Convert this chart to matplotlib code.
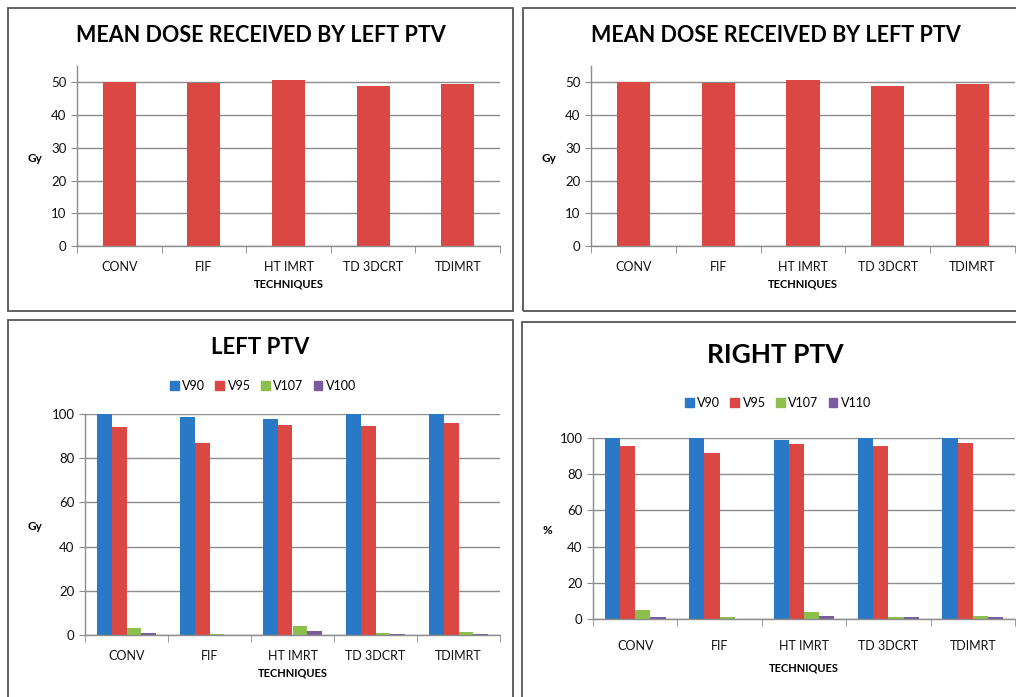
import numpy as np
import matplotlib
matplotlib.use("Agg")
import matplotlib.pyplot as plt
from matplotlib.patches import Rectangle, Patch

plt.rcParams['font.family'] = ['Lato', 'DejaVu Sans']

# Data
techniques = ["CONV", "FIF", "HT IMRT", "TD 3DCRT", "TDIMRT"]
mean_dose_left = [50.0, 49.9, 50.8, 48.9, 49.5]
mean_dose_left_2 = [50.0, 49.9, 50.8, 48.9, 49.5]

left_labels = ["V90", "V95", "V107", "V100"]
left_v90 = [100.0, 98.8, 97.7, 100.0, 100.0]
left_v95 = [94.1, 86.9, 95.2, 94.6, 96.1]
left_v107 = [3.0, 0.4, 4.1, 1.0, 1.5]
left_v100 = [0.7, 0.1, 1.7, 0.6, 0.6]

right_labels = ["V90", "V95", "V107", "V110"]
right_v90 = [100.0, 99.9, 98.9, 100.0, 100.0]
right_v95 = [95.8, 91.7, 96.9, 95.8, 97.4]
right_v107 = [5.0, 1.1, 4.1, 1.1, 1.7]
right_v110 = [1.1, 0.0, 1.7, 1.1, 1.1]

BLUE = "#2a79c6"
RED = "#db4844"
GREEN = "#8cbf4b"
PURPLE = "#7a5b9e"
GRID = "#8c8c8c"

W, H = 1016, 697
fig = plt.figure(figsize=(W / 100, H / 100), dpi=100)


def px_axes(left, right, bottom, top):
    return fig.add_axes([left / W, 1 - bottom / H, (right - left) / W, (bottom - top) / H])


def px_text(x, y, s, **kw):
    fig.text(x / W, 1 - y / H, s, ha="center", va="center", **kw)


def box(x0, y0, x1, y1):
    fig.patches.append(Rectangle((x0 / W, 1 - y1 / H), (x1 - x0) / W, (y1 - y0) / H,
                                 transform=fig.transFigure, fill=False,
                                 edgecolor="#555555", linewidth=1.3))


def style(ax, ymax, step, pad=11, xlabelpad=4):
    n = len(techniques)
    ax.set_xlim(-0.5, n - 0.5)
    ax.set_ylim(0, ymax)
    ax.set_yticks(np.arange(0, ymax + 0.1, step))
    ax.yaxis.grid(True, color=GRID, linewidth=1)
    ax.set_axisbelow(True)
    for s in ["top", "right"]:
        ax.spines[s].set_visible(False)
    for s in ["left", "bottom"]:
        ax.spines[s].set_color(GRID)
        ax.spines[s].set_linewidth(1)
    ax.set_xticks(range(n))
    ax.set_xticklabels(techniques)
    ax.set_xticks(np.arange(-0.5, n, 1), minor=True)
    ax.tick_params(axis="x", which="major", length=0, pad=pad, labelsize=9, colors="#111111")
    ax.tick_params(axis="x", which="minor", length=5, color=GRID)
    ax.tick_params(axis="y", length=4, color=GRID, labelsize=9.5, labelcolor="#111111")
    ax.set_xlabel("TECHNIQUES", fontsize=8, fontweight="bold", labelpad=xlabelpad)


def single(ax, values):
    ax.bar(range(len(techniques)), values, width=0.39, color=RED, zorder=2)
    style(ax, 55, 10)


def grouped(ax, series, labels):
    x = np.arange(len(techniques))
    colors = [BLUE, RED, GREEN, PURPLE]
    bw = 0.18
    handles = []
    for i, (vals, c) in enumerate(zip(series, colors)):
        ax.bar(x + (i - 1.5) * bw, vals, width=bw, color=c, zorder=2)
        handles.append(Patch(color=c, label=labels[i]))
    return handles


# panel frames
box(8, 8, 513, 311)
box(523, 8, 1030, 311)
box(8, 320, 513, 710)
box(522, 322, 1030, 710)

# top-left
ax1 = px_axes(77, 500, 246, 66)
single(ax1, mean_dose_left)
px_text(261, 35, "MEAN DOSE RECEIVED BY LEFT PTV", fontsize=15.5, fontweight="bold")
px_text(35, 158, "Gy", fontsize=8.5, fontweight="bold")

# top-right
ax2 = px_axes(591, 1015, 246, 66)
single(ax2, mean_dose_left_2)
px_text(776, 35, "MEAN DOSE RECEIVED BY LEFT PTV", fontsize=15.5, fontweight="bold")
px_text(549, 158, "Gy", fontsize=8.5, fontweight="bold")

# bottom-left
ax3 = px_axes(85, 500, 635, 414)
h3 = grouped(ax3, [left_v90, left_v95, left_v107, left_v100], left_labels)
style(ax3, 100, 20)
px_text(260, 348, "LEFT PTV", fontsize=16, fontweight="bold")
px_text(35, 526, "Gy", fontsize=8.5, fontweight="bold")
fig.legend(handles=h3, loc="center", bbox_to_anchor=(263 / W, 1 - 386 / H), ncol=4,
           frameon=False, fontsize=9, handlelength=0.7, handleheight=0.7,
           handletextpad=0.3, columnspacing=0.8)

# bottom-right
ax4 = px_axes(593, 1015, 619, 438)
h4 = grouped(ax4, [right_v90, right_v95, right_v107, right_v110], right_labels)
style(ax4, 100, 20, pad=15, xlabelpad=8)
px_text(775, 355, "RIGHT PTV", fontsize=19, fontweight="bold")
px_text(547, 530, "%", fontsize=8.5, fontweight="bold")
fig.legend(handles=h4, loc="center", bbox_to_anchor=(778 / W, 1 - 403 / H), ncol=4,
           frameon=False, fontsize=9, handlelength=0.7, handleheight=0.7,
           handletextpad=0.3, columnspacing=0.8)

fig.savefig("out.png", dpi=100)
